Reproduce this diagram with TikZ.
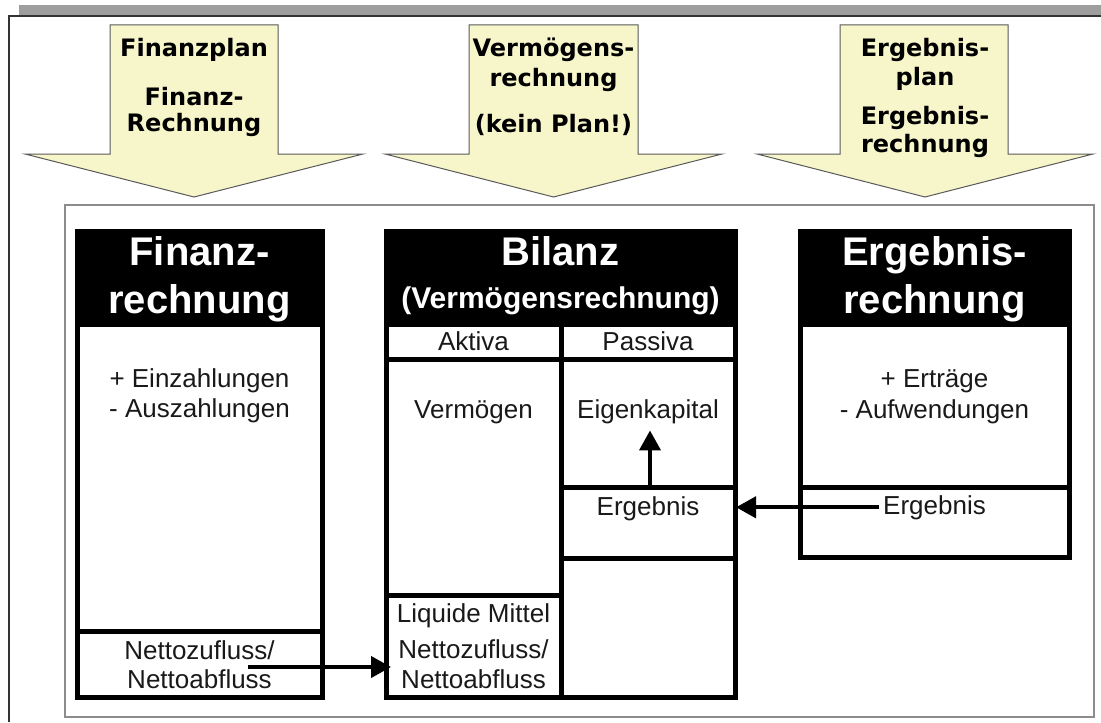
\documentclass[tikz,border=0pt]{standalone}
\usepackage{fontspec}
\setmainfont{Liberation Sans}
\newfontfamily\arrowfont{DejaVu Sans}
\usetikzlibrary{arrows.meta}
\definecolor{arrowfill}{RGB}{247,245,202}
\definecolor{shadowgray}{gray}{0.62}
\definecolor{framegray}{gray}{0.55}
\tikzset{
  boxline/.style={draw=black,line width=2.5pt},
  headfill/.style={fill=black},
  htxt/.style={font=\fontsize{20}{24}\selectfont\bfseries,text=white,anchor=base,inner sep=0pt},
  stxt/.style={font=\fontsize{15}{18}\selectfont\bfseries,text=white,anchor=base,inner sep=0pt},
  btxt/.style={font=\fontsize{13}{15}\selectfont,text=black!90,anchor=base},
  atxt/.style={font=\arrowfont\fontsize{12}{14}\selectfont\bfseries,anchor=base,inner sep=0pt},
  blockarrow/.style={draw=black!65,fill=arrowfill,line width=0.5pt},
  flow/.style={line width=2pt,-{Triangle[length=10pt,width=10.5pt]}},
}
\begin{document}
\begin{tikzpicture}[x=0.5pt,y=-0.5pt]
  \useasboundingbox (0,0) rectangle (1101,722);
  % page frame
  \fill[shadowgray] (19,5) rectangle (1101,16);
  \draw[black!80,line width=0.6pt] (9,722) -- (9,16) -- (1101,16);
  \draw[framegray,line width=0.6pt] (65,205) rectangle (1094,717);
  % block arrows
  \draw[blockarrow] (110,25) -- (278,25) -- (278,154) -- (363,154) -- (194,197) -- (25,154) -- (110,154) -- cycle;
  \draw[blockarrow] (469,25) -- (638,25) -- (638,154) -- (722,154) -- (553.5,197) -- (385,154) -- (469,154) -- cycle;
  \draw[blockarrow] (840,25) -- (1008,25) -- (1008,154) -- (1093,154) -- (925,197) -- (757,154) -- (840,154) -- cycle;
  \node[atxt] (fp1) at (194,57) {Finanzplan};
  \node[atxt] (fp2) at (194,105) {Finanz-};
  \node[atxt] (fp3) at (194,132) {Rechnung};
  \node[atxt] (vr1) at (553.5,57) {Vermögens-};
  \node[atxt] (vr2) at (553.5,87) {rechnung};
  \node[atxt] (vr3) at (553.5,133) {(kein Plan!)};
  \node[atxt] (ep1) at (925,57) {Ergebnis-};
  \node[atxt] (ep2) at (925,86) {plan};
  \node[atxt] (ep3) at (925,125) {Ergebnis-};
  \node[atxt] (ep4) at (925,152) {rechnung};
  % Finanzrechnung
  \fill[headfill] (74.5,229) rectangle (324.5,327);
  \draw[boxline] (77,231.5) rectangle (322,697);
  \draw[boxline] (77,631.5) -- (322,631.5);
  \node[htxt] (fh1) at (199.5,265) {Finanz-};
  \node[htxt] (fh2) at (199.5,313) {rechnung};
  \node[btxt] (fb1) at (199.5,387) {+ Einzahlungen};
  \node[btxt] (fb2) at (199.5,417) {- Auszahlungen};
  \node[btxt] (fn1) at (199.5,659) {Nettozufluss/};
  \node[btxt] (fn2) at (199.5,688) {Nettoabfluss};
  % Bilanz
  \fill[headfill] (383.5,229) rectangle (737.5,327);
  \draw[boxline] (386,231.5) rectangle (735,697);
  \draw[boxline] (386,359.5) -- (735,359.5);
  \draw[boxline] (561,327) -- (561,697);
  \draw[boxline] (386,595) -- (561,595);
  \draw[boxline] (561,487.5) -- (735,487.5);
  \draw[boxline] (561,558) -- (735,558);
  \node[htxt] (bh1) at (560.5,265) {Bilanz};
  \node[stxt] (bh2) at (560.5,308) {(Vermögensrechnung)};
  \node[btxt] (akt) at (473.5,350) {Aktiva};
  \node[btxt] (pas) at (648,350) {Passiva};
  \node[btxt] (verm) at (473.5,418) {Vermögen};
  \node[btxt] (ek) at (648,418) {Eigenkapital};
  \node[btxt] (berg) at (648,515) {Ergebnis};
  \node[btxt] (lm1) at (473.5,622) {Liquide Mittel};
  \node[btxt] (lm2) at (473.5,658) {Nettozufluss/};
  \node[btxt] (lm3) at (473.5,688) {Nettoabfluss};
  % Ergebnisrechnung
  \fill[headfill] (797.5,229) rectangle (1071.5,327);
  \draw[boxline] (800,231.5) rectangle (1069,557.5);
  \draw[boxline] (800,487.5) -- (1069,487.5);
  \node[htxt] (eh1) at (934.5,265) {Ergebnis-};
  \node[htxt] (eh2) at (934.5,313) {rechnung};
  \node[btxt] (eb1) at (934.5,387) {+ Erträge};
  \node[btxt] (eb2) at (934.5,418) {- Aufwendungen};
  \node[btxt,inner sep=2pt] (eerg) at (934.5,514) {Ergebnis};
  % flows
  \coordinate (nzout) at (248,667);
  \coordinate (lmin) at (391,667);
  \coordinate (bilR) at (736,505);
  \coordinate (ekfoot) at (650,487.5);
  \draw[flow] (nzout) -- (lmin);
  \draw[flow] (eerg.west) -- (eerg.west -| bilR);
  \draw[flow] (ekfoot) -- (ekfoot |- ek.south);
\end{tikzpicture}
\end{document}
